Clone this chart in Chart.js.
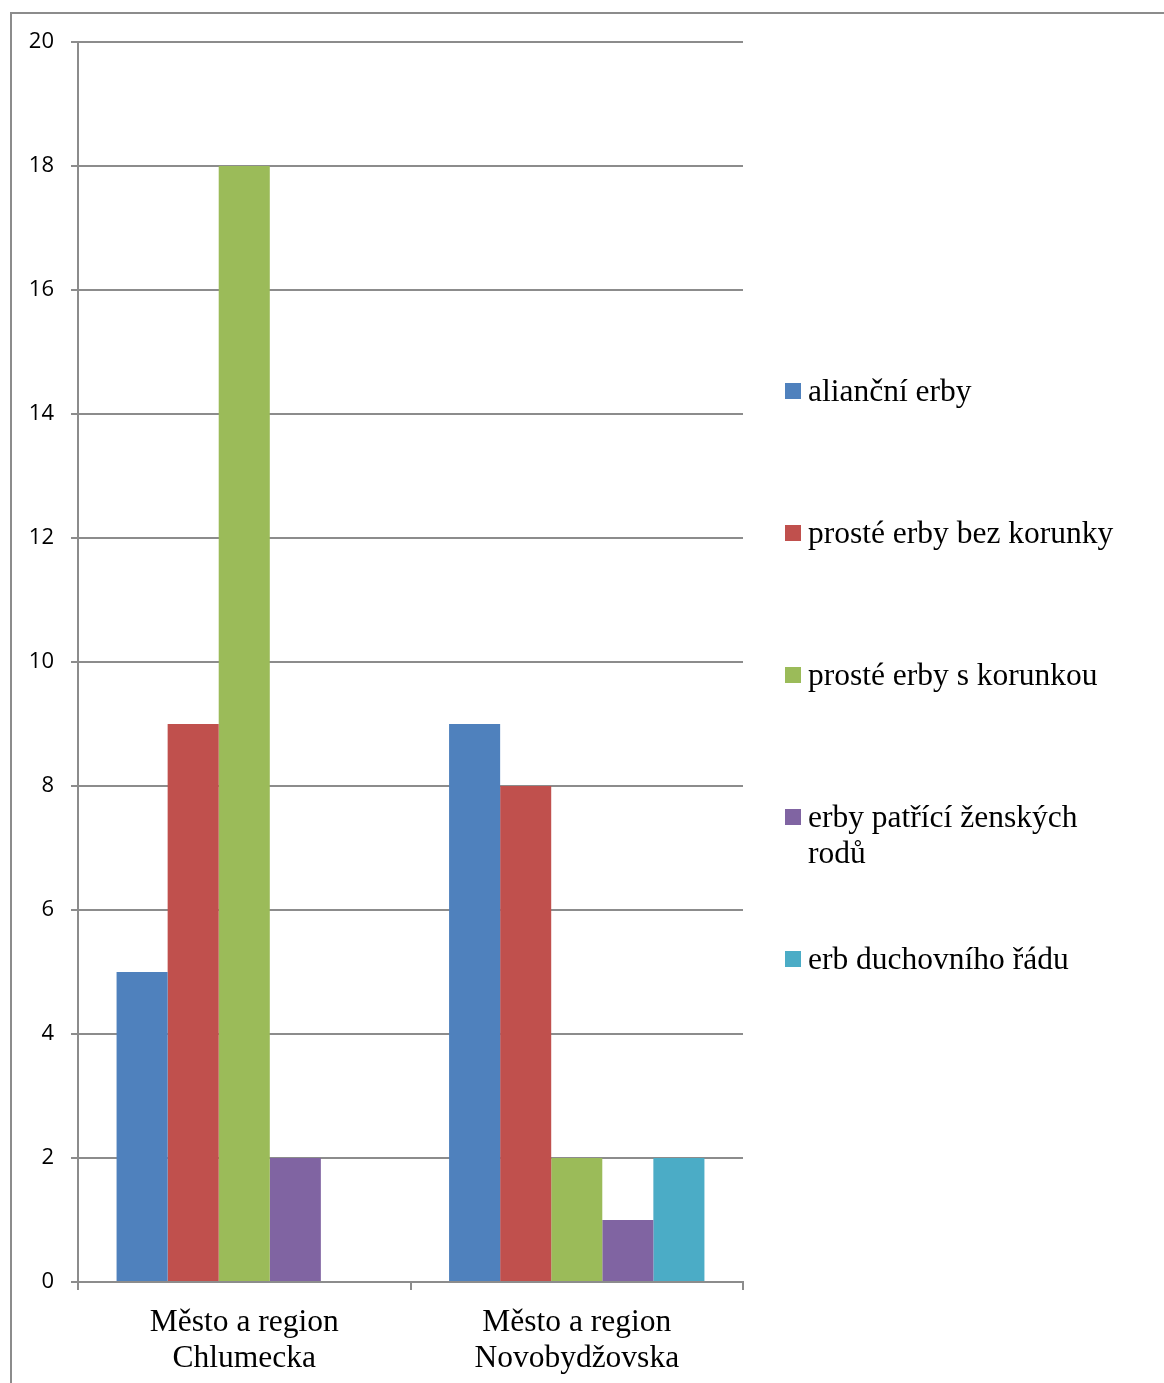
<!DOCTYPE html>
<html>
<head>
<meta charset="utf-8">
<script src="https://cdn.jsdelivr.net/npm/chart.js@4/dist/chart.umd.min.js"></script>
<style>
  html, body { margin: 0; padding: 0; background: #fff; }
  #wrap { width: 1164px; height: 1383px; position: relative; }
</style>
</head>
<body>
<div id="wrap"><canvas id="graf"></canvas></div>
<script>
// kategorie a hodnoty
var kategorie = [["Město a region", "Chlumecka"], ["Město a region", "Novobydžovska"]];
var nazvyRad = ["alianční erby", "prosté erby bez korunky", "prosté erby s korunkou", "erby patřící ženských rodů", "erb duchovního řádu"];
var aliancni = [5, 9];
var bezKorunky = [9, 8];
var sKorunkou = [18, 2];
var zenskeRody = [2, 1];
var duchovniRad = [0, 2];
var barvy = ["#4F81BD", "#C0504D", "#9BBB59", "#8064A2", "#4BACC6"];
var osaYMax = 20;
var osaYKrok = 2;

var serif = '"Liberation Serif", "Times New Roman", serif';
var sans = '"Open Sans", "Noto Sans", sans-serif';

var hodnoty = [aliancni, bezKorunky, sKorunkou, zenskeRody, duchovniRad];
var datasets = [];
for (let i = 0; i < nazvyRad.length; i++) {
    datasets.push({
        label: nazvyRad[i],
        data: hodnoty[i],
        backgroundColor: barvy[i],
        borderWidth: 0,
        categoryPercentage: 0.768,
        barPercentage: 1.0
    });
}

// ramecek kolem celeho grafu
const ramecek = {
    id: 'ramecek',
    beforeDraw(chart) {
        const ctx = chart.ctx;
        ctx.save();
        ctx.strokeStyle = '#8c8c8c';
        ctx.lineWidth = 2;
        ctx.strokeRect(11, 13, chart.width + 10, chart.height + 10);
        ctx.restore();
    }
};

// legenda vpravo, s zalamovanim textu
const legenda = {
    id: 'legenda',
    afterDraw(chart) {
        const ctx = chart.ctx;
        const x = 785, textX = 808, y0 = 391, krok = 142, radek = 36;
        const maxSirka = 320;
        ctx.save();
        ctx.font = '31.5px ' + serif;
        ctx.textBaseline = 'middle';
        ctx.fillStyle = '#000';
        chart.data.datasets.forEach((ds, i) => {
            const y = y0 + i * krok;
            ctx.fillStyle = ds.backgroundColor;
            ctx.fillRect(x, y - 8, 16, 16);
            ctx.fillStyle = '#000';
            let slova = ds.label.split(' ');
            let radky = [];
            let akt = '';
            slova.forEach(s => {
                let zkus = akt ? akt + ' ' + s : s;
                if (ctx.measureText(zkus).width > maxSirka && akt) {
                    radky.push(akt);
                    akt = s;
                } else {
                    akt = zkus;
                }
            });
            radky.push(akt);
            radky.forEach((r, j) => ctx.fillText(r, textX, y + 2 + j * radek));
        });
        ctx.restore();
    }
};

new Chart(document.getElementById('graf'), {
    type: 'bar',
    data: { labels: kategorie, datasets: datasets },
    plugins: [ramecek, legenda],
    options: {
        responsive: true,
        maintainAspectRatio: false,
        animation: false,
        layout: { padding: { left: 0, top: 42, right: 421, bottom: 0 } },
        plugins: {
            legend: { display: false },
            tooltip: { enabled: false }
        },
        scales: {
            x: {
                afterFit: function(scale) { scale.height = 101; },
                grid: { drawOnChartArea: false, drawTicks: true, tickLength: 8, offset: true, color: '#8c8c8c', lineWidth: 2 },
                border: { color: '#8c8c8c', width: 2 },
                ticks: { color: '#000', font: { family: serif, size: 31.5, lineHeight: 1.14 }, padding: 15, maxRotation: 0 }
            },
            y: {
                min: 0,
                max: osaYMax,
                afterFit: function(scale) { scale.width = 78; },
                grid: { color: '#8c8c8c', lineWidth: 2, tickLength: 7 },
                border: { color: '#8c8c8c', width: 2 },
                ticks: { stepSize: osaYKrok, color: '#000', font: { family: sans, size: 22 }, padding: 17 }
            }
        }
    }
});
</script>
</body>
</html>
